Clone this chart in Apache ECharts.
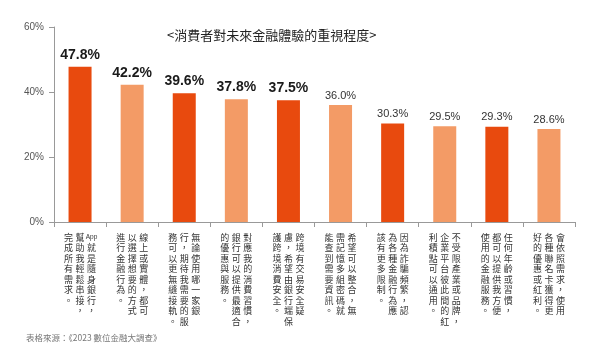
<!DOCTYPE html>
<html>
<head>
<meta charset="utf-8">
<script src="https://cdn.jsdelivr.net/npm/echarts@6/dist/echarts.min.js"></script>
<style>
  html, body { margin: 0; padding: 0; background: #fff; }
  #main { width: 600px; height: 352px; }
</style>
</head>
<body>
<div id="main"></div>
<script>
// 每個選項的直排文字，欄位由右至左
const labelColumns = [
  ['App就是隨身銀行，', '幫助我輕鬆串接，', '完成所有需求。'],
  ['線上或實體，都可', '以選擇想要的方式', '進行金融行為。'],
  ['無論使用哪一家銀', '行，期待我需要的服', '務可以更無縫接軌。'],
  ['對應我的消費習慣，', '銀行可以提供最適合', '的優惠與服務。'],
  ['跨境有交易安全疑', '慮，希望由銀行端保', '護跨境消費安全。'],
  ['希望可以整合，無', '需記憶多組密碼就', '能查到需要資訊。'],
  ['因為詐騙頻繁，認', '為各種金融行為應', '該有更多限制。'],
  ['不受限產業或品牌，', '企業平台彼此間的紅', '利積點可以通用。'],
  ['任何年齡或習慣，', '都可以提供我方便', '使用的金融服務。'],
  ['會依照需求，使用', '各種聯名卡獲得更', '好的優惠或紅利。']
];
const categories = labelColumns.map(cols => cols.join(''));
const values = [47.8, 42.2, 39.6, 37.8, 37.5, 36.0, 30.3, 29.5, 29.3, 28.6];
const yTicks = [0, 20, 40, 60];

const titleText = '<消費者對未來金融體驗的重視程度>';
const sourceText = '表格來源：《2023 數位金融大調查》';

// 把欄位轉成一列一列的 rich 文字，模擬直排
function verticalLabel(index) {
  const cols = labelColumns[index].slice().reverse();
  const units = cols.map(c => c.match(/App|./gu));
  const rows = Math.max(...units.map(u => u.length));
  const lines = [];
  for (let r = 0; r < rows; r++) {
    lines.push(units.map(u => {
      const ch = u[r];
      if (!ch) return '{c|　}';
      if (ch === 'App') return '{a|App}';
      return '{c|' + ch + '}';
    }).join(''));
  }
  return lines.join('\n');
}

const chart = echarts.init(document.getElementById('main'));

const option = {
  animation: false,
  backgroundColor: '#fff',
  title: [
    {
      text: titleText,
      left: 162,
      top: 24,
      textStyle: {
        fontFamily: 'Noto Sans CJK TC',
        fontSize: 13,
        fontWeight: 'normal',
        color: '#222'
      }
    },
    {
      text: sourceText,
      left: 21,
      top: 329,
      textStyle: {
        fontFamily: 'Noto Sans CJK TC',
        fontSize: 8.5,
        fontWeight: 'normal',
        color: '#777'
      }
    }
  ],
  grid: {
    left: 54,
    right: 25,
    top: 27,
    bottom: 130,
    containLabel: false
  },
  xAxis: {
    type: 'category',
    data: categories,
    axisLine: { lineStyle: { color: '#999', width: 1 } },
    axisTick: { show: true, length: 5, lineStyle: { color: '#999' } },
    axisLabel: {
      interval: 0,
      margin: 10,
      formatter: (value, index) => verticalLabel(index),
      rich: {
        c: {
          width: 11.5,
          align: 'center',
          fontSize: 9,
          lineHeight: 10.5,
          color: '#333',
          fontFamily: 'Noto Sans CJK TC'
        },
        a: {
          width: 11.5,
          align: 'center',
          fontSize: 6.5,
          lineHeight: 10.5,
          color: '#333',
          fontFamily: 'Liberation Sans'
        }
      }
    }
  },
  yAxis: {
    type: 'value',
    min: yTicks[0],
    max: yTicks[yTicks.length - 1],
    interval: yTicks[1] - yTicks[0],
    splitLine: { show: false },
    axisLine: { show: true, lineStyle: { color: '#999', width: 1 } },
    axisTick: { show: true, length: 5, lineStyle: { color: '#999' } },
    axisLabel: {
      margin: 10,
      color: '#555',
      fontSize: 10,
      fontFamily: 'Liberation Sans',
      formatter: '{value}%'
    }
  },
  series: [
    {
      type: 'bar',
      barWidth: 23,
      data: values.map((v, i) => ({
        value: v,
        itemStyle: { color: i % 2 === 0 ? '#E84A0E' : '#F39B66' },
        label: i < 5
          ? { fontSize: 14, fontWeight: 'bold', color: '#1a1a1a', distance: 5 }
          : { fontSize: 11, fontWeight: 'normal', color: '#333', distance: 4 }
      })),
      label: {
        show: true,
        position: 'top',
        fontFamily: 'Liberation Sans',
        formatter: p => p.value.toFixed(1) + '%'
      }
    }
  ]
};

chart.setOption(option);
</script>
</body>
</html>
